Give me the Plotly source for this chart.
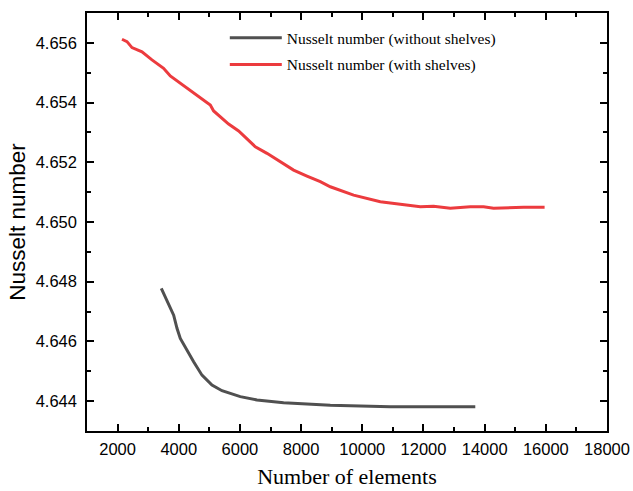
import plotly.graph_objects as go

# Data
without_x = [3429, 3615, 3833, 3942, 4050, 4486, 4759, 5086, 5413, 6011, 6557, 7427, 8627, 8954, 10916, 13694]
without_y = [4.64778, 4.64739, 4.64688, 4.64644, 4.64610, 4.64532, 4.64487, 4.64454, 4.64435, 4.64415,
             4.64404, 4.64395, 4.64387, 4.64386, 4.64381, 4.64381]

with_x = [2144, 2308, 2471, 2798, 3124, 3504, 3723, 4269, 4759, 5031, 5140, 5630, 5957, 6502, 6884, 7754,
          8191, 8627, 8954, 9716, 10589, 11897, 12330, 12876, 13530, 13965, 14292, 14837, 15272, 15960]
with_y = [4.65612, 4.65604, 4.65584, 4.65570, 4.65543, 4.65515, 4.65489, 4.65448, 4.65411, 4.65392,
          4.65372, 4.65328, 4.65305, 4.65252, 4.65230, 4.65174, 4.65154, 4.65135, 4.65118, 4.65090,
          4.65068, 4.65051, 4.65053, 4.65046, 4.65051, 4.65051, 4.65046, 4.65048, 4.65049, 4.65049]

x_ticks = [2000, 4000, 6000, 8000, 10000, 12000, 14000, 16000, 18000]
y_ticks = [4.644, 4.646, 4.648, 4.650, 4.652, 4.654, 4.656]

fig = go.Figure()
fig.add_trace(go.Scatter(x=without_x, y=without_y, mode="lines",
                         name="Nusselt number (without shelves)", legend="legend",
                         line=dict(color="#505050", width=3)))
fig.add_trace(go.Scatter(x=with_x, y=with_y, mode="lines",
                         name="Nusselt number (with shelves)", legend="legend2",
                         line=dict(color="#EC3B3E", width=3)))

axis_common = dict(showline=True, linecolor="black", linewidth=1.5, mirror="ticks",
                   ticks="inside", ticklen=7, tickwidth=1.5, tickcolor="black",
                   showgrid=False, zeroline=False, automargin=False,
                   tickfont=dict(family="Liberation Sans, Arial", size=16.5, color="black"),
                   minor=dict(ticks="inside", ticklen=4, tickwidth=1.5, tickcolor="black", showgrid=False))

fig.update_xaxes(range=[1000, 18000], tickvals=x_ticks, ticktext=[str(v) for v in x_ticks],
                 title=dict(text="Number of elements", standoff=12,
                            font=dict(family="Liberation Serif, Times New Roman", size=22, color="black")),
                 ticklabelstandoff=2,
                 **axis_common)
fig.update_xaxes(minor=dict(dtick=1000, tick0=1000))
fig.update_yaxes(range=[4.643, 4.657], tickvals=y_ticks, ticktext=[f"{v:.3f}" for v in y_ticks],
                 title=dict(text="Nusselt number", standoff=4,
                            font=dict(family="Liberation Sans, Arial", size=22.5, color="black")),
                 ticklabelstandoff=5,
                 **axis_common)
fig.update_yaxes(minor=dict(dtick=0.001, tick0=4.643))

leg_common = dict(xanchor="left", yanchor="middle", bgcolor="rgba(0,0,0,0)", borderwidth=0,
                  font=dict(family="Liberation Serif, Times New Roman", size=15.5, color="black"),
                  itemwidth=52)
fig.update_layout(
    width=633, height=491,
    margin=dict(l=87, r=26, t=13, b=60),
    plot_bgcolor="white", paper_bgcolor="white",
    legend=dict(x=0.265, y=0.94, **leg_common),
    legend2=dict(x=0.265, y=0.876, **leg_common),
    showlegend=True,
)

fig.write_html("out.html", config={"displayModeBar": False},
               post_script="document.body.style.margin='0';document.body.style.overflow='hidden';")
